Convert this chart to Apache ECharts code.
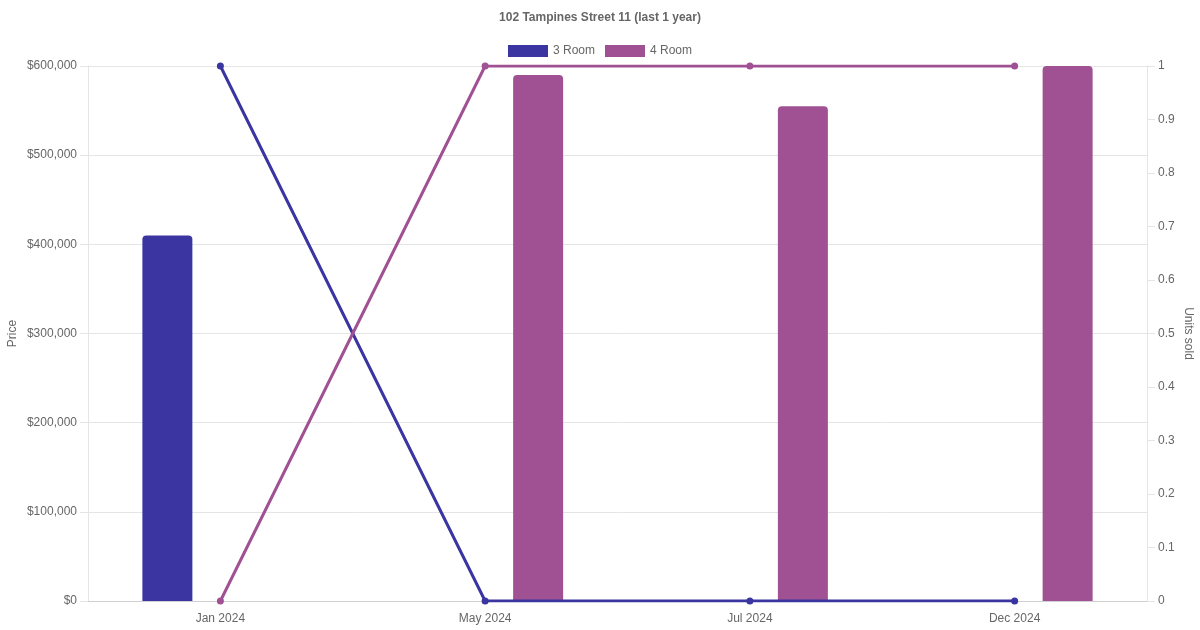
<!DOCTYPE html>
<html>
<head>
<meta charset="utf-8">
<script src="https://cdn.jsdelivr.net/npm/echarts@6/dist/echarts.min.js"></script>
<style>html,body{margin:0;padding:0;background:#fff}#c{width:1200px;height:630px}</style>
</head>
<body>
<div id="c"></div>
<script>
const categories = ['Jan 2024', 'May 2024', 'Jul 2024', 'Dec 2024'];
const price3Room = [410000, null, null, null];
const price4Room = [null, 590000, 555000, 600000];
const units3Room = [1, 0, 0, 0];
const units4Room = [0, 1, 1, 1];
const titleText = '102 Tampines Street 11 (last 1 year)';

const c3 = '#3a35a0', c4 = '#a05193';
const font = 'Liberation Sans, Arial, sans-serif';
const chart = echarts.init(document.getElementById('c'), null, {renderer: 'canvas'});
chart.setOption({
  animation: false,
  textStyle: {fontFamily: font},
  title: {text: titleText, left: 'center', top: 7,
    textStyle: {fontSize: 12, fontWeight: 'bold', color: '#666', fontFamily: font}},
  legend: {data: ['3 Room', '4 Room'], top: 45, left: 'center', icon: 'rect',
    itemWidth: 40, itemHeight: 12, itemGap: 10, padding: 0,
    textStyle: {fontSize: 12, color: '#666', fontFamily: font}},
  grid: {left: 88, right: 53, top: 66, bottom: 29, containLabel: false, outerBoundsMode: 'none'},
  xAxis: {type: 'category', data: categories,
    axisLine: {lineStyle: {color: '#d0d0d0'}},
    axisTick: {show: false},
    axisLabel: {color: '#666', fontSize: 12, margin: 12, fontFamily: font},
    splitLine: {show: false}},
  yAxis: [
    {type: 'value', min: 0, max: 600000, interval: 100000, name: 'Price',
     nameLocation: 'middle', nameGap: 69, nameRotate: 90, nameMoveOverlap: false,
     nameTextStyle: {color: '#666', fontSize: 12, fontFamily: font},
     axisLine: {show: true, lineStyle: {color: '#e5e5e5'}},
     axisTick: {show: true, length: 8, lineStyle: {color: '#e5e5e5'}},
     axisLabel: {color: '#666', fontSize: 12, margin: 11, fontFamily: font,
       formatter: v => '$' + v.toLocaleString('en-US')},
     splitLine: {lineStyle: {color: '#e5e5e5'}}},
    {type: 'value', min: 0, max: 1, interval: 0.1, name: 'Units sold',
     nameLocation: 'middle', nameGap: 35, nameRotate: -90, nameMoveOverlap: false,
     nameTextStyle: {color: '#666', fontSize: 12, fontFamily: font},
     axisLine: {show: true, lineStyle: {color: '#e5e5e5'}},
     axisTick: {show: true, length: 8, lineStyle: {color: '#e5e5e5'}},
     axisLabel: {color: '#666', fontSize: 12, margin: 11, fontFamily: font,
       formatter: v => String(+v.toFixed(1))},
     splitLine: {show: false}}
  ],
  series: [
    {name: '3 Room', type: 'bar', data: price3Room, barWidth: 50, barGap: '112%',
     itemStyle: {color: c3, borderRadius: [4, 4, 0, 0]}, z: 2},
    {name: '4 Room', type: 'bar', data: price4Room, barWidth: 50, barGap: '112%',
     itemStyle: {color: c4, borderRadius: [4, 4, 0, 0]}, z: 2},
    {name: '3 Room', type: 'line', yAxisIndex: 1, data: units3Room,
     symbol: 'circle', symbolSize: 7, lineStyle: {color: c3, width: 3},
     itemStyle: {color: c3}, z: 3},
    {name: '4 Room', type: 'line', yAxisIndex: 1, data: units4Room,
     symbol: 'circle', symbolSize: 7, lineStyle: {color: c4, width: 3},
     itemStyle: {color: c4}, z: 3}
  ]
});
</script>
</body>
</html>
